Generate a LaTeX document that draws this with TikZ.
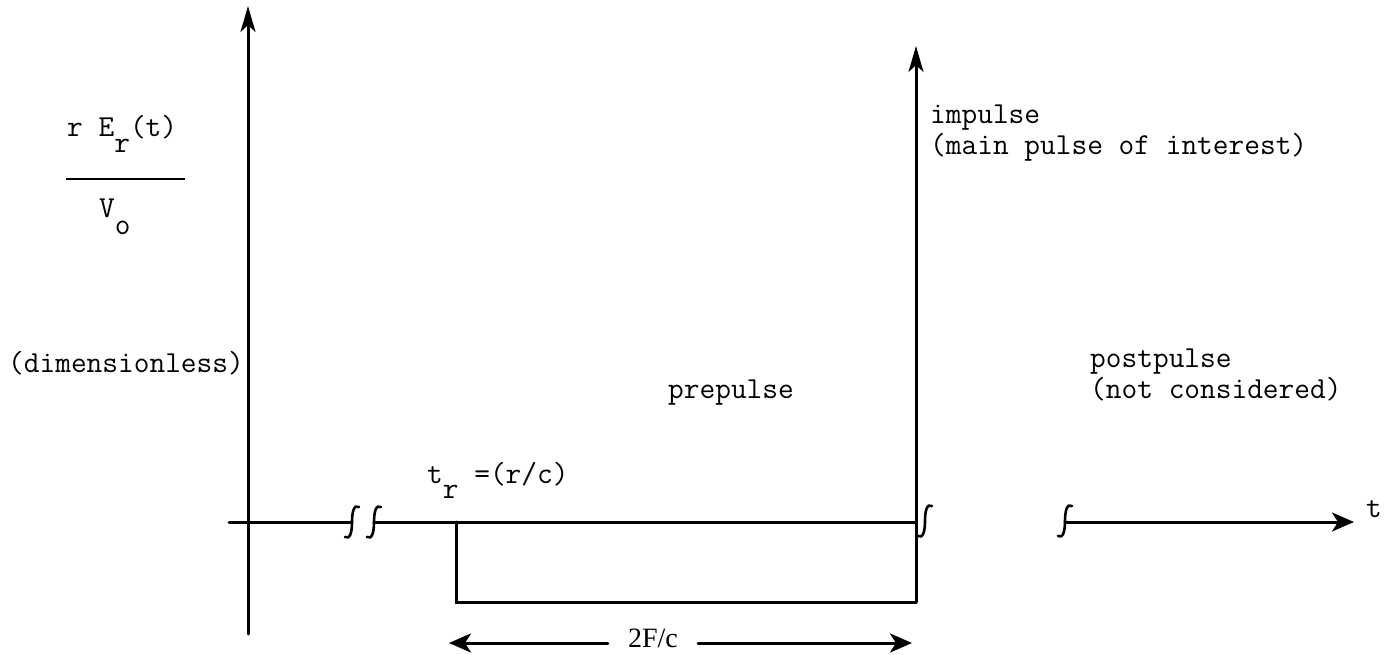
\documentclass[tikz,border=0pt]{standalone}
\usepackage{fontspec}
\newfontfamily\serifnum{Liberation Serif}
\usetikzlibrary{arrows.meta}
\tikzset{
  axisline/.style={line width=3pt, line cap=round},
  tipv/.style={-{Stealth[length=26pt,width=15pt,inset=7pt]}},
  tiph/.style={-{Stealth[length=22pt,width=19pt,inset=6pt]}},
  lbl/.style={inner sep=0pt, font=\ttfamily\fontsize{30.5}{31}\selectfont},
  brk/.pic={\draw[line width=2.6pt, line cap=round] (-7,15) .. controls (-2,18) and (0,10) .. (0,0) .. controls (0,-10) and (2,-18) .. (7,-15);}
}
\begin{document}
\begin{tikzpicture}[x=1pt,y=-1pt]
\useasboundingbox (0,0) rectangle (1395,655);
% coordinates
\coordinate (ytop) at (248,6);
\coordinate (ybot) at (248,634);
\coordinate (xstart) at (229,522);
\coordinate (b1) at (352,522);
\coordinate (b2) at (374,522);
\coordinate (tr) at (456,522);
\coordinate (imp) at (916,522);
\coordinate (b4) at (1065,522);
\coordinate (xend) at (1354,522);
\coordinate (trb) at (456,602);
\coordinate (impb) at (916,602);
\coordinate (imptop) at (916,46);
\coordinate (dl) at (449,643);
\coordinate (dr) at (912,643);
% axes
\draw[axisline,tipv] (ybot) -- (ytop);
\draw[axisline] (xstart) -- (b1);
\draw[axisline] (b2) -- (imp);
\draw[axisline,tiph] (b4) -- (xend);
\draw[axisline] (tr) -- (trb) -- (impb);
\draw[axisline,tipv] (impb) -- (imptop);
% breaks
\pic at (352,522) {brk};
\pic at (374,522) {brk};
\pic at (925,521) {brk};
\pic at (1065,521) {brk};
% labels
\node[lbl, anchor=base west] (er) at (67,137) {r E\raisebox{-16pt}{r}(t)};
\draw[line width=2.8pt] (66,179) -- (185,179);
\node[lbl, anchor=base west] (vo) at (99,218) {V\raisebox{-17pt}{o}};
\node[lbl, anchor=base east] (dimless) at (244,372) {(dimensionless)};
\node[lbl, anchor=base west] (trlbl) at (427,483) {t\raisebox{-15pt}{r} =(r/c)};
\node[lbl, anchor=base west] (pre) at (668,398) {prepulse};
\node[lbl, anchor=base west, align=left] (post) at (1090,398) {postpulse\\(not considered)};
\node[lbl, anchor=base west, align=left] (impl) at (930,155) {impulse\\(main pulse of interest)};
\node[lbl, anchor=base west] (tlbl) at (1366,517) {t};
% dimension
\node[inner ysep=0pt, inner xsep=20pt, font=\serifnum\fontsize{28}{30}\selectfont] (dim) at (653,638) {2F/c};
\draw[axisline,tiph] (dim.east |- dl) -- (dr);
\draw[axisline,tiph] (dim.west |- dl) -- (dl);
\end{tikzpicture}
\end{document}
